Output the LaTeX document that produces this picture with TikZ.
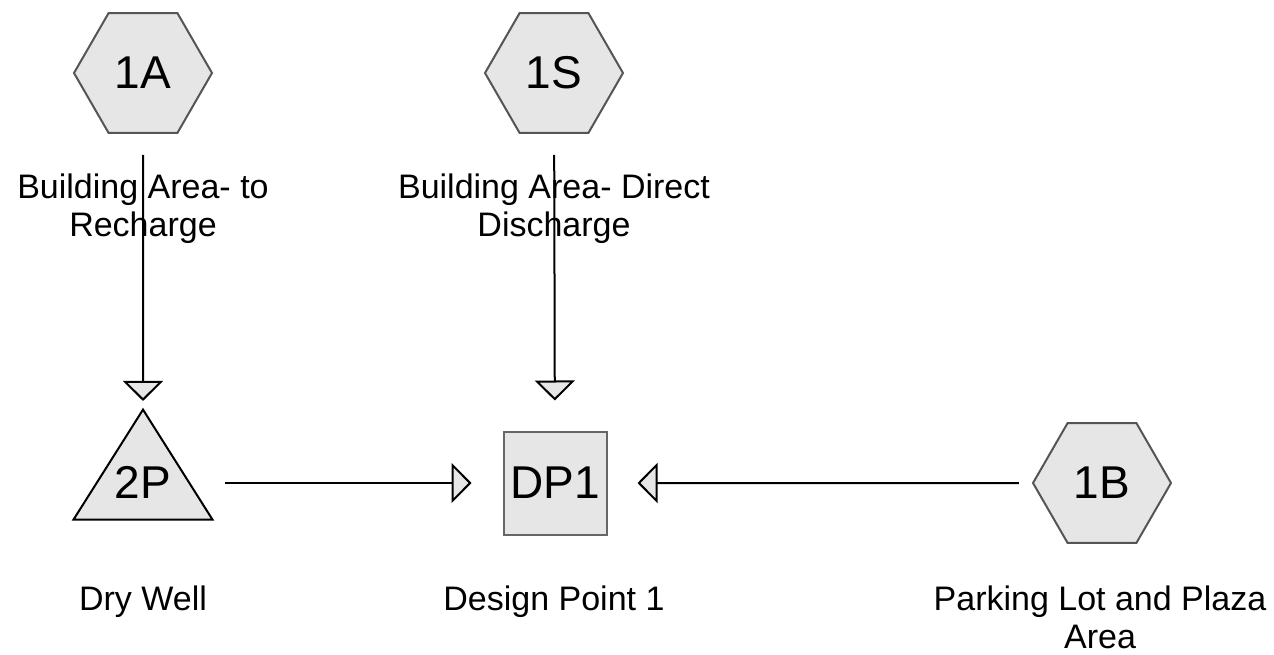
\documentclass[tikz,border=0pt]{standalone}
\usepackage{fontspec}
\setmainfont{Liberation Sans}
\usepackage{tikz}
\usetikzlibrary{arrows.meta}
\usetikzlibrary{shapes.geometric}
\definecolor{shapefill}{HTML}{E6E6E6}
\definecolor{hexline}{HTML}{555555}
\definecolor{boxline}{HTML}{666666}

\begin{document}
\begin{tikzpicture}[x=1pt, y=-1pt, line width=2pt,
    sub/.style = {draw=hexline, fill=shapefill, regular polygon, regular polygon sides=6,
                  minimum size=138pt, inner sep=0pt, font=\fontsize{46}{50}\selectfont},
    pond/.style = {draw=black, fill=shapefill, isosceles triangle, isosceles triangle stretches,
                   shape border rotate=90, minimum width=139pt, minimum height=110pt,
                   inner sep=0pt, font=\fontsize{46}{50}\selectfont},
    reach/.style = {draw=boxline, fill=shapefill, rectangle, minimum size=103pt,
                    inner sep=0pt, font=\fontsize{46}{50}\selectfont},
    caption/.style = {anchor=north, inner sep=0pt, align=center, font=\fontsize{34}{38}\selectfont},
    link/.style = {draw=black, -{Triangle[length=20pt, width=40pt, fill=shapefill]}}]
    \useasboundingbox (0,0) rectangle (1274,655);

    % Nodes
    \node[sub] (1A) at (143,73) {1A};
    \node[sub] (1S) at (554,73) {1S};
    \node[sub] (1B) at (1102,483) {1B};
    \node[pond, anchor=apex] (2P) at (143,407) {\raisebox{-2pt}[0pt][0pt]{2P}};
    \node[reach] (DP1) at (555,483) {DP1};

    % Captions
    \node[caption] (c1A) at (143,173) {Building Area- to\\Recharge};
    \node[caption] (c1S) at (554,173) {Building Area- Direct\\Discharge};
    \node[caption] (c2P) at (143,585) {Dry Well};
    \node[caption] (cDP1) at (554,585) {Design Point 1};
    \node[caption] (c1B) at (1100,585) {Parking Lot and Plaza\\Area};

    % Edges
    \draw[link, shorten <=21pt, shorten >=6pt] (1A) -- (2P);
    \draw[link, shorten <=21pt, shorten >=30pt] (1S) -- (DP1);
    \draw[link, shorten <=82pt, shorten >=31pt] (2P.apex |- DP1) -- (DP1);
    \draw[link, shorten <=13pt, shorten >=30pt] (1B) -- (DP1);
\end{tikzpicture}
\end{document}
